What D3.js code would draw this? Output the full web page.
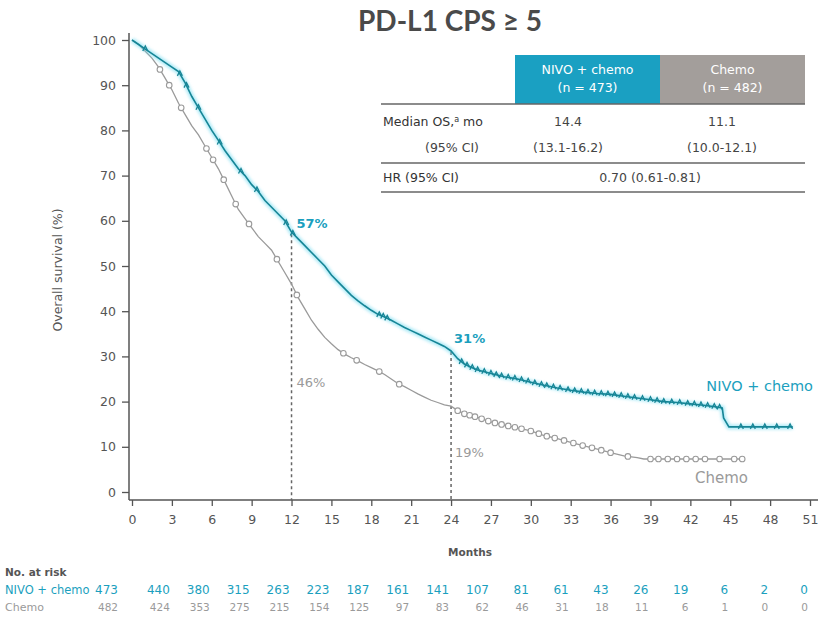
<!DOCTYPE html>
<html>
<head>
<meta charset="utf-8">
<script src="https://cdn.jsdelivr.net/npm/d3@7"></script>
<style>
  html, body { margin: 0; padding: 0; background: #fff; }
  svg { display: block; font-family: "DejaVu Sans", Verdana, sans-serif; }
</style>
</head>
<body>
<svg id="chart" width="818" height="622"></svg>
<script>
// Kaplan-Meier overall survival, PD-L1 CPS >= 5
const nivoMonths = [0,0.5,1,1.5,2,2.5,3,3.5,4,4.5,5,5.5,6,6.5,7,7.5,8,8.5,9,9.5,10,10.5,11,11.5,12,12.5,13,13.5,14,14.5,15,15.5,16,16.5,17,17.5,18,18.5,19,19.5,20,20.5,21,21.5,22,22.5,23,23.5,24,24.5,25,25.5,26,27,28,29,30,31,32,33,34,35,36,37,38,39,40,41,42,43,44,44.4,44.5,44.9,49.7];
const nivoSurv   = [100,99,98,97,96,95,94,93,90.5,87.5,85,82.5,80,77.8,75.5,73.5,71.5,70,68,66.5,64.5,63,61.5,60,57.5,56,54.5,53,51.5,50,48,46.5,45,43.5,42.3,41.2,40.2,39.3,38.7,38,37.2,36.4,35.7,35,34.3,33.6,32.9,32.2,31.2,29.5,28.3,27.6,27,26.2,25.5,25,24.3,23.6,23,22.5,22.1,21.8,21.6,21.2,20.8,20.4,20,19.8,19.5,19.2,18.8,18.6,16.4,14.4,14.4];

const chemoMonths = [0,0.5,1,1.5,2,2.5,3,3.5,4,4.5,5,5.5,6,6.5,7,7.5,8,8.5,9,9.5,10,10.5,11,11.5,12,12.5,13,13.5,14,14.5,15,15.5,16,16.5,17,17.5,18,18.5,19,19.5,20,20.5,21,21.5,22,22.5,23,23.5,24,24.5,25,26,27,28,29,30,31,32,33,34,35,36,37,38,38.5,46];
const chemoSurv   = [100,99,97.5,96,94,91.5,89,86,83.5,81,79,76.5,74,71.5,68.5,65.5,62.5,60.5,58.5,56.5,55,53.5,51,48.5,46,43,40.5,38,36,34.2,32.8,31.5,30.5,29.7,29,28.2,27.5,26.8,26,25,24,23.3,22.5,21.7,21,20.3,19.8,19.3,19,18,17.3,16.5,15.5,14.8,14.2,13.5,12.5,11.8,11,10.2,9.5,8.7,8,7.6,7.3,7.3];

// censoring times (months)
const nivoCensor = [1,3.6,4.1,5,6.6,8.2,9.4,11.6,12.1,18.6,18.9,19.2,24.8,25.2,25.6,26.0,26.5,27.0,27.4,27.8,28.3,28.8,29.3,29.8,30.3,30.8,31.2,31.7,32.2,32.8,33.3,33.8,34.3,34.8,35.3,35.8,36.3,36.8,37.3,37.8,38.4,39.0,39.5,40.0,40.6,41.2,41.8,42.3,42.8,43.3,43.8,44.2,45.8,46.7,47.6,48.5,49.5];
const chemoCensor = [2.1,2.8,3.7,5.6,6.1,6.9,7.8,8.8,10.9,12.4,15.9,16.9,18.6,20.1,24.5,25.0,25.4,25.8,26.3,26.8,27.3,27.8,28.3,28.8,29.3,30.0,30.6,31.2,31.8,32.5,33.2,33.9,34.6,35.3,36.0,37.3,39.0,39.6,40.3,41.0,41.7,42.4,43.1,44.2,45.3,45.9];

// landmark rates
const landmarkMonths = [12, 24];
const nivoLandmark  = [57, 31];
const chemoLandmark = [46, 19];

// numbers at risk
const riskMonths = [0,3,6,9,12,15,18,21,24,27,30,33,36,39,42,45,48,51];
const nivoRisk  = [473,440,380,315,263,223,187,161,141,107,81,61,43,26,19,6,2,0];
const chemoRisk = [482,424,353,275,215,154,125,97,83,62,46,31,18,11,6,1,0,0];

// summary table
const tableHeaders = [["NIVO + chemo", "(n = 473)"], ["Chemo", "(n = 482)"]];
const medianOS = ["14.4", "11.1"];
const medianCI = ["(13.1-16.2)", "(10.0-12.1)"];
const hrText = "0.70 (0.61-0.81)";

const TEAL = "#1b9fbe";
const TEAL_DARK = "#168596";
const GREY = "#9a9a9a";
const AXIS = "#555";

const svg = d3.select("#chart");
const x = d3.scaleLinear().domain([0, 51]).range([132, 810]);
const y = d3.scaleLinear().domain([0, 100]).range([492, 40]);

// title
svg.append("text").attr("x", 450).attr("y", 31).attr("text-anchor", "middle")
  .attr("font-family", "Lato, sans-serif")
  .attr("font-size", 28).attr("fill", "#4a4a4a").attr("font-weight", 700)
  .text("PD-L1 CPS ≥ 5");

// axes
const xAxisY = 500, yAxisX = 129;
const gx = svg.append("g").attr("transform", `translate(0,${xAxisY})`)
  .call(d3.axisBottom(x).tickValues(riskMonths).tickSize(6).tickPadding(9));
gx.select(".domain").remove();
svg.append("line").attr("x1", yAxisX).attr("x2", 818).attr("y1", xAxisY).attr("y2", xAxisY)
  .attr("stroke", AXIS).attr("stroke-width", 1.5);

const gy = svg.append("g").attr("transform", `translate(${yAxisX},0)`)
  .call(d3.axisLeft(y).tickValues(d3.range(0, 101, 10)).tickSize(7).tickPadding(6));
gy.select(".domain").remove();
svg.append("line").attr("x1", yAxisX).attr("x2", yAxisX).attr("y1", 33).attr("y2", xAxisY)
  .attr("stroke", AXIS).attr("stroke-width", 1.5);

[gx, gy].forEach(g => {
  g.selectAll(".tick line").attr("stroke", AXIS).attr("stroke-width", 1.3);
  g.selectAll(".tick text").attr("fill", "#555").attr("font-size", 12.5)
    .attr("font-family", "DejaVu Sans, sans-serif");
});

svg.append("text").attr("transform", "translate(62,270) rotate(-90)")
  .attr("text-anchor", "middle").attr("font-size", 12.5).attr("fill", "#555")
  .text("Overall survival (%)");
svg.append("text").attr("x", 470).attr("y", 556).attr("text-anchor", "middle")
  .attr("font-size", 10.5).attr("font-weight", 700).attr("fill", "#555").text("Months");

// landmark guides
landmarkMonths.forEach((m, i) => {
  svg.append("line").attr("x1", x(m)).attr("x2", x(m))
    .attr("y1", y(nivoLandmark[i])).attr("y2", xAxisY)
    .attr("stroke", "#666").attr("stroke-width", 1.5).attr("stroke-dasharray", "3,3");
});

// glow filter for the NIVO curve
const defs = svg.append("defs");
defs.append("filter").attr("id", "glow").attr("x", "-5%").attr("y", "-5%")
  .attr("width", "110%").attr("height", "110%")
  .append("feGaussianBlur").attr("stdDeviation", 1.4);

const line = d3.line().x(d => x(d[0])).y(d => y(d[1])).curve(d3.curveLinear);
const nivoPts = nivoMonths.map((m, i) => [m, nivoSurv[i]]);
const chemoPts = chemoMonths.map((m, i) => [m, chemoSurv[i]]);

// survival at a given time from the tabulated curve
function survAt(months, surv, t) {
  const i = d3.bisectRight(months, t) - 1;
  if (i >= months.length - 1) return surv[surv.length - 1];
  const f = (t - months[i]) / (months[i + 1] - months[i]);
  return surv[i] + f * (surv[i + 1] - surv[i]);
}

// chemo curve
svg.append("path").datum(chemoPts).attr("d", line)
  .attr("fill", "none").attr("stroke", GREY).attr("stroke-width", 1.3);
svg.append("g").selectAll("circle").data(chemoCensor).join("circle")
  .attr("cx", d => x(d)).attr("cy", d => y(survAt(chemoMonths, chemoSurv, d)))
  .attr("r", 2.8).attr("fill", "#fff").attr("stroke", GREY).attr("stroke-width", 1.1);

// NIVO curve with halo
svg.append("path").datum(nivoPts).attr("d", line)
  .attr("fill", "none").attr("stroke", "#5fd6ee").attr("stroke-width", 5)
  .attr("opacity", 0.5).attr("filter", "url(#glow)");
svg.append("path").datum(nivoPts).attr("d", line)
  .attr("fill", "none").attr("stroke", TEAL_DARK).attr("stroke-width", 1.6);
svg.append("g").selectAll("path").data(nivoCensor).join("path")
  .attr("transform", d => `translate(${x(d)},${y(survAt(nivoMonths, nivoSurv, d))})`)
  .attr("d", "M-2.5,2 L0,-3 L2.5,2")
  .attr("fill", "none").attr("stroke", TEAL_DARK).attr("stroke-width", 1.3);

// landmark labels
svg.append("text").attr("x", x(12) + 5).attr("y", y(nivoLandmark[0]) - 6)
  .attr("font-size", 13).attr("font-weight", 700).attr("fill", TEAL).text(nivoLandmark[0] + "%");
svg.append("text").attr("x", x(24) + 3).attr("y", y(nivoLandmark[1]) - 9)
  .attr("font-size", 13).attr("font-weight", 700).attr("fill", TEAL).text(nivoLandmark[1] + "%");
svg.append("text").attr("x", x(12) + 5).attr("y", 387)
  .attr("font-size", 13).attr("fill", GREY).text(chemoLandmark[0] + "%");
svg.append("text").attr("x", x(24) + 4).attr("y", 457)
  .attr("font-size", 13).attr("fill", GREY).text(chemoLandmark[1] + "%");

// curve labels
svg.append("text").attr("x", 813).attr("y", 391).attr("text-anchor", "end")
  .attr("font-size", 14.5).attr("fill", TEAL).text("NIVO + chemo");
svg.append("text").attr("x", 695).attr("y", 483)
  .attr("font-size", 15).attr("fill", GREY).text("Chemo");

// summary table
const tbl = svg.append("g");
const colX = [515, 660], colW = 145;
const valueX = [568, 722];
tbl.append("rect").attr("x", colX[0]).attr("y", 55).attr("width", colW).attr("height", 49).attr("fill", "#1aa0c2");
tbl.append("rect").attr("x", colX[1]).attr("y", 55).attr("width", colW).attr("height", 49).attr("fill", "#a39e9b");
tableHeaders.forEach((h, i) => {
  h.forEach((t, j) => {
    tbl.append("text").attr("x", colX[i] + colW / 2).attr("y", 74 + j * 18)
      .attr("text-anchor", "middle").attr("font-size", 12.5)
      .attr("fill", "#fff").text(t);
  });
});
[104, 163, 192].forEach(yy => {
  tbl.append("line").attr("x1", 381).attr("x2", 805).attr("y1", yy).attr("y2", yy)
    .attr("stroke", "#666").attr("stroke-width", 1.6);
});
const medLabel = tbl.append("text").attr("x", 383).attr("y", 126)
  .attr("font-size", 12.5).attr("fill", "#333");
medLabel.append("tspan").text("Median OS,");
medLabel.append("tspan").attr("font-size", 8).attr("dy", -4).text("a");
medLabel.append("tspan").attr("dy", 4).text(" mo");
tbl.append("text").attr("x", 452).attr("y", 152).attr("text-anchor", "middle")
  .attr("font-size", 12.5).attr("fill", "#444").text("(95% CI)");
medianOS.forEach((v, i) => {
  tbl.append("text").attr("x", valueX[i]).attr("y", 126).attr("text-anchor", "middle")
    .attr("font-size", 12.5).attr("fill", "#444").text(v);
  tbl.append("text").attr("x", valueX[i]).attr("y", 152).attr("text-anchor", "middle")
    .attr("font-size", 12.5).attr("fill", "#444").text(medianCI[i]);
});
tbl.append("text").attr("x", 383).attr("y", 182)
  .attr("font-size", 12.5).attr("fill", "#333").text("HR (95% CI)");
tbl.append("text").attr("x", 650).attr("y", 182).attr("text-anchor", "middle")
  .attr("font-size", 12.5).attr("fill", "#444").text(hrText);

// numbers at risk
svg.append("text").attr("x", 5).attr("y", 576).attr("font-size", 10.5).attr("font-weight", 700)
  .attr("fill", "#555").text("No. at risk");
svg.append("text").attr("x", 5).attr("y", 594).attr("font-size", 11.5).attr("fill", TEAL).text("NIVO + chemo");
svg.append("text").attr("x", 5).attr("y", 611).attr("font-size", 11).attr("fill", GREY).text("Chemo");
const riskX = d => x(d) - 2 - (d === 0 ? 12 : 0);
svg.append("g").selectAll("text").data(riskMonths).join("text")
  .attr("x", riskX).attr("y", 594).attr("text-anchor", "end")
  .attr("font-size", 12).attr("fill", TEAL).text((d, i) => nivoRisk[i]);
svg.append("g").selectAll("text").data(riskMonths).join("text")
  .attr("x", riskX).attr("y", 611).attr("text-anchor", "end")
  .attr("font-size", 10.5).attr("fill", GREY).text((d, i) => chemoRisk[i]);
</script>
</body>
</html>
